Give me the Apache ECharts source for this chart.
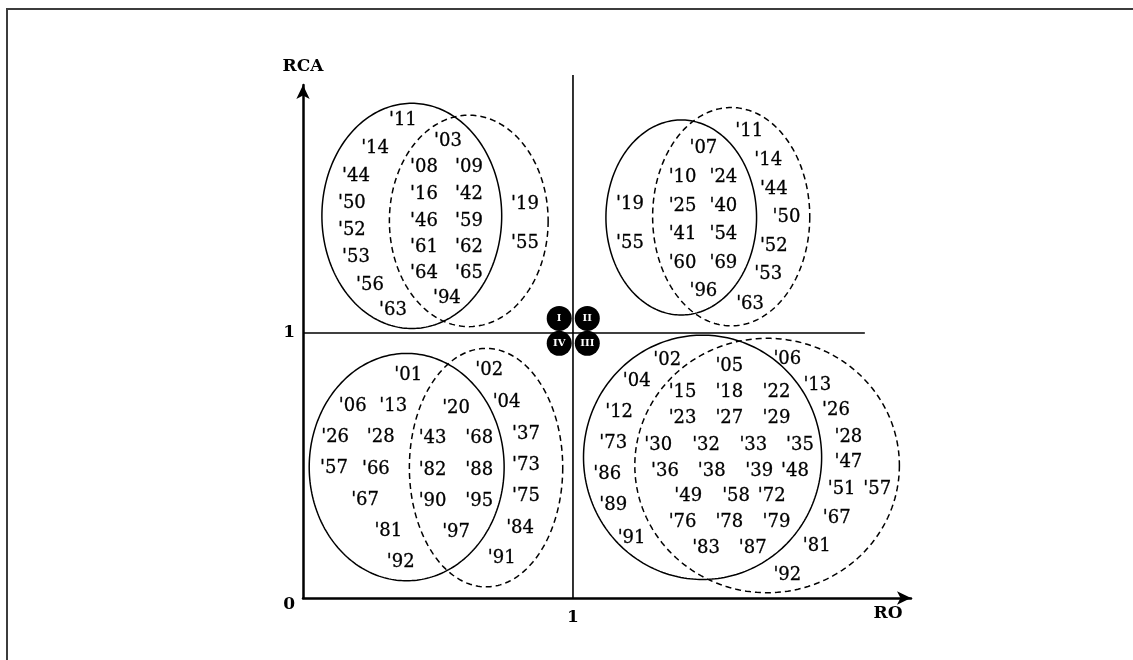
<!DOCTYPE html>
<html><head><meta charset="utf-8">
<script src="https://cdn.jsdelivr.net/npm/echarts@6/dist/echarts.min.js"></script>
<style>
html,body{margin:0;padding:0;background:#fff;overflow:hidden;}
#frame{position:absolute;left:6px;top:8px;width:1300px;height:800px;border-left:2px solid #3c3c3c;border-top:2px solid #3c3c3c;}
#chart{position:absolute;left:0;top:0;width:1133px;height:660px;}
</style></head><body>
<div id="frame"></div>
<div id="chart"></div>
<script>
// ---- data (x: RO, y: RCA; 1 = threshold) ----
const q1Years = [["'11",0.370,1.804],["'14",0.267,1.698],["'03",0.537,1.725],["'44",0.196,1.592],["'08",0.448,1.626],["'09",0.615,1.626],
  ["'50",0.181,1.491],["'16",0.448,1.525],["'42",0.615,1.525],["'19",0.822,1.487],["'52",0.181,1.389],["'46",0.448,1.423],["'59",0.615,1.423],
  ["'55",0.822,1.340],["'53",0.196,1.287],["'61",0.448,1.325],["'62",0.615,1.325],["'64",0.448,1.226],["'65",0.615,1.226],["'56",0.248,1.181],
  ["'94",0.533,1.132],["'63",0.333,1.087]];
const q2Years = [["'11",1.653,1.760],["'07",1.483,1.697],["'14",1.723,1.653],["'10",1.406,1.588],["'24",1.557,1.588],["'44",1.744,1.542],
  ["'19",1.211,1.487],["'25",1.406,1.479],["'40",1.557,1.479],["'50",1.791,1.437],["'55",1.211,1.338],["'41",1.406,1.372],["'54",1.557,1.372],
  ["'52",1.744,1.328],["'60",1.406,1.263],["'69",1.557,1.263],["'53",1.723,1.223],["'96",1.483,1.156],["'63",1.656,1.109]];
const q4Years = [["'01",0.390,0.842],["'02",0.690,0.858],["'06",0.184,0.725],["'13",0.334,0.725],["'20",0.567,0.716],["'04",0.754,0.737],
  ["'26",0.119,0.606],["'28",0.288,0.606],["'43",0.480,0.603],["'68",0.653,0.603],["'37",0.826,0.619],["'57",0.115,0.489],["'66",0.270,0.486],
  ["'82",0.480,0.480],["'88",0.653,0.480],["'73",0.826,0.502],["'67",0.230,0.370],["'90",0.480,0.363],["'95",0.653,0.363],["'75",0.826,0.385],
  ["'81",0.316,0.250],["'97",0.567,0.246],["'84",0.804,0.263],["'92",0.362,0.133],["'91",0.736,0.150]];
const q3Years = [["'02",1.349,0.898],["'05",1.579,0.875],["'06",1.794,0.901],["'04",1.236,0.819],["'15",1.406,0.775],["'18",1.579,0.775],
  ["'22",1.754,0.775],["'13",1.905,0.804],["'12",1.171,0.699],["'23",1.406,0.678],["'27",1.579,0.678],["'29",1.754,0.678],["'26",1.974,0.707],
  ["'73",1.149,0.584],["'30",1.316,0.577],["'32",1.493,0.577],["'33",1.668,0.577],["'35",1.841,0.577],["'28",2.020,0.606],["'86",1.127,0.468],
  ["'36",1.341,0.477],["'38",1.514,0.477],["'39",1.690,0.477],["'48",1.822,0.477],["'47",2.020,0.511],["'89",1.149,0.351],["'49",1.427,0.382],
  ["'58",1.604,0.382],["'72",1.736,0.382],["'51",1.995,0.410],["'57",2.127,0.410],["'76",1.406,0.284],["'78",1.579,0.284],["'79",1.754,0.284],
  ["'67",1.977,0.301],["'91",1.217,0.225],["'83",1.493,0.188],["'87",1.666,0.188],["'81",1.903,0.194],["'92",1.794,0.087]];
// ellipses: [centerX, centerY, radiusX, radiusY] in data units
const solidEllipses  = [[0.403,1.442,0.333,0.425],[1.401,1.436,0.279,0.368],[0.384,0.494,0.361,0.429],[1.480,0.531,0.441,0.461]];
const dashedEllipses = [[0.614,1.423,0.294,0.399],[1.586,1.439,0.291,0.412],[0.678,0.492,0.284,0.450],[1.719,0.500,0.490,0.480]];
const quadrantMarks = [["I",0.949,1.055],["II",1.053,1.055],["IV",0.949,0.961],["III",1.053,0.961]];
const xTickLabels = {1:'1'};
const yTickLabels = {0:'0', 1:'1'};
const X_MAX = 2.252, Y_MAX = 1.936;
const threshold = 1, vLineTop = 1.974, hLineRight = 2.081;

const SERIF = "'DejaVu Serif', 'Liberation Serif', serif";
function ellipseSeries(rows, dashed){
  return {type:'custom', data: rows, encode:{x:0,y:1}, silent:true, z:3,
    renderItem: function(params, api){
      const c = api.coord([api.value(0), api.value(1)]);
      const s = api.size([api.value(2), api.value(3)]);
      const pts = [];
      for (let i=0;i<240;i++){ const t=i/240*2*Math.PI; pts.push([c[0]+s[0]*Math.cos(t), c[1]+s[1]*Math.sin(t)]); }
      return {type:'polygon', shape:{points:pts}, style:{fill:null, stroke:'#000', lineWidth:1.5, lineDash: dashed?[6,4]:null}};
    }};
}
function yearSeries(rows){
  return {type:'scatter', symbolSize:0, silent:true, z:5, itemStyle:{opacity:1},
    data: rows.map(r=>({name:r[0], value:[r[1], r[2]]})),
    label:{show:true, position:'inside', formatter:'{b}', color:'#000', opacity:1, fontFamily:SERIF, fontSize:18,
      textBorderColor:'#000', textBorderWidth:0.3}};
}
const chart = echarts.init(document.getElementById('chart'), null, {renderer:'canvas'});
chart.setOption({
  animation:false,
  backgroundColor:'transparent',
  grid:{left:303, top:85, width:608, height:513, containLabel:false},
  xAxis:{type:'value', min:0, max:X_MAX, interval:1, splitLine:{show:false}, axisTick:{show:false},
    name:'RO', nameLocation:'end', nameGap:-23,
    nameTextStyle:{fontFamily:SERIF, fontWeight:'bold', fontSize:17, color:'#000', align:'center', verticalAlign:'top', padding:[7,0,0,0]},
    axisLine:{onZero:false, lineStyle:{color:'#000', width:2.5}, symbol:['none','arrow'], symbolSize:[10,14]},
    axisLabel:{formatter:v=>xTickLabels[v]||'', margin:11, fontFamily:SERIF, fontWeight:'bold', fontSize:17, color:'#000'}},
  yAxis:{type:'value', min:0, max:Y_MAX, interval:1, splitLine:{show:false}, axisTick:{show:false},
    name:'RCA', nameLocation:'end', nameGap:10,
    nameTextStyle:{fontFamily:SERIF, fontWeight:'bold', fontSize:17, color:'#000'},
    axisLine:{onZero:false, lineStyle:{color:'#000', width:2.5}, symbol:['none','arrow'], symbolSize:[10,14]},
    axisLabel:{formatter:v=>{const t=yTickLabels[v]; if(t===undefined) return ''; return v===0?'{z|'+t+'}':t;}, margin:8,
      fontFamily:SERIF, fontWeight:'bold', fontSize:17, color:'#000', rich:{z:{padding:[14,0,0,0], fontFamily:SERIF, fontWeight:'bold', fontSize:17, color:'#000'}}}},
  series:[
    {type:'line', data:[[threshold,0],[threshold,vLineTop]], symbol:'none', clip:false, silent:true, lineStyle:{color:'#000', width:1.6}, z:2},
    {type:'line', data:[[0,threshold],[hLineRight,threshold]], symbol:'none', clip:false, silent:true, lineStyle:{color:'#000', width:1.6}, z:2},
    ellipseSeries(solidEllipses, false),
    ellipseSeries(dashedEllipses, true),
    yearSeries(q1Years), yearSeries(q2Years), yearSeries(q3Years), yearSeries(q4Years),
    {type:'scatter', symbol:'circle', symbolSize:25, silent:true, z:6, itemStyle:{color:'#000', opacity:1},
      data: quadrantMarks.map(r=>({name:r[0], value:[r[1], r[2]]})),
      label:{show:true, position:'inside', formatter:'{b}', color:'#fff', fontFamily:SERIF, fontWeight:'bold', fontSize:10}}
  ]
});
</script></body></html>
